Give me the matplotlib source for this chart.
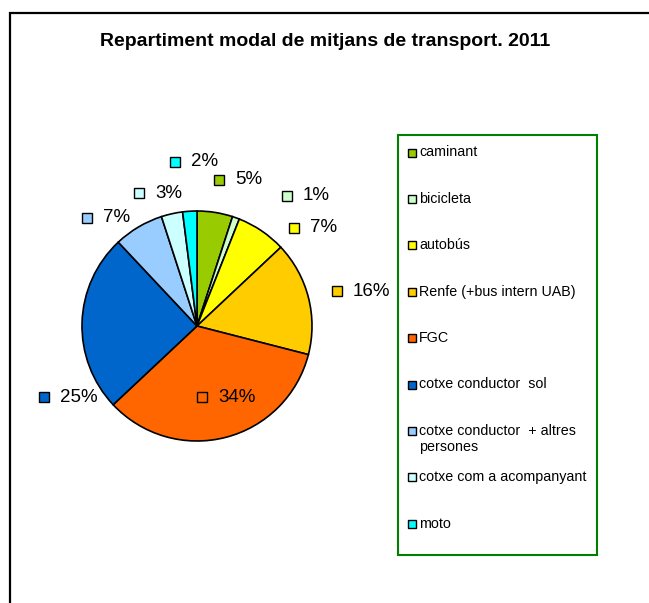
import matplotlib.pyplot as plt
from matplotlib.patches import Rectangle

plt.rcParams['font.family'] = ['Liberation Sans', 'DejaVu Sans']

W, H = 649, 603

title = 'Repartiment modal de mitjans de transport. 2011'
modes = ['caminant', 'bicicleta', 'autobús', 'Renfe (+bus intern UAB)', 'FGC',
         'cotxe conductor  sol', 'cotxe conductor  + altres\npersones',
         'cotxe com a acompanyant', 'moto']
shares = [5, 1, 7, 16, 34, 25, 7, 3, 2]
colors = ['#99CC00', '#CCFFCC', '#FFFF00', '#FFCC00', '#FF6600',
          '#0066CC', '#99CCFF', '#CCFFFF', '#00FFFF']

# label key positions in pixels (x, y from top)
label_pos = [(219, 180), (287, 196), (294, 228), (337, 291), (202, 397),
             (44, 397), (87, 218), (139, 193), (175, 162)]


def fy(y):
    return H - y


fig = plt.figure(figsize=(W / 100, H / 100), dpi=100)
ax = fig.add_axes([0, 0, 1, 1])

ax.pie(shares, colors=colors, startangle=90, counterclock=False,
       center=(197, fy(326)), radius=115,
       wedgeprops=dict(edgecolor='black', linewidth=1.2))
ax.set_xlim(0, W)
ax.set_ylim(0, H)
ax.axis('off')

# outer chart border
ax.add_patch(Rectangle((9.5, -20), W + 20, fy(13) + 20, fill=False,
                       edgecolor='black', linewidth=1.6, clip_on=False))

ax.text(325, fy(41), title, ha='center', va='center', fontsize=14,
        fontweight='bold')

# percentage labels
for (x, y), s, c in zip(label_pos, shares, colors):
    ax.plot(x, fy(y), marker='s', markersize=6.5, markerfacecolor=c,
            markeredgecolor='black', markeredgewidth=1)
    ax.text(x + 16, fy(y), f'{s}%', ha='left', va='center', fontsize=13.5)

# legend
ax.add_patch(Rectangle((397.5, fy(554.5)), 199.5, 420, fill=False,
                       edgecolor='#008000', linewidth=1.5))
for i, (m, c) in enumerate(zip(modes, colors)):
    y = 152.5 + 46.4 * i
    ax.plot(411.5, fy(y), marker='s', markersize=5.8, markerfacecolor=c,
            markeredgecolor='black', markeredgewidth=1)
    for j, line in enumerate(m.split('\n')):
        ax.text(419, fy(y + 16 * j), line, ha='left', va='center',
                fontsize=10.3)

fig.savefig('out.png', dpi=100)
